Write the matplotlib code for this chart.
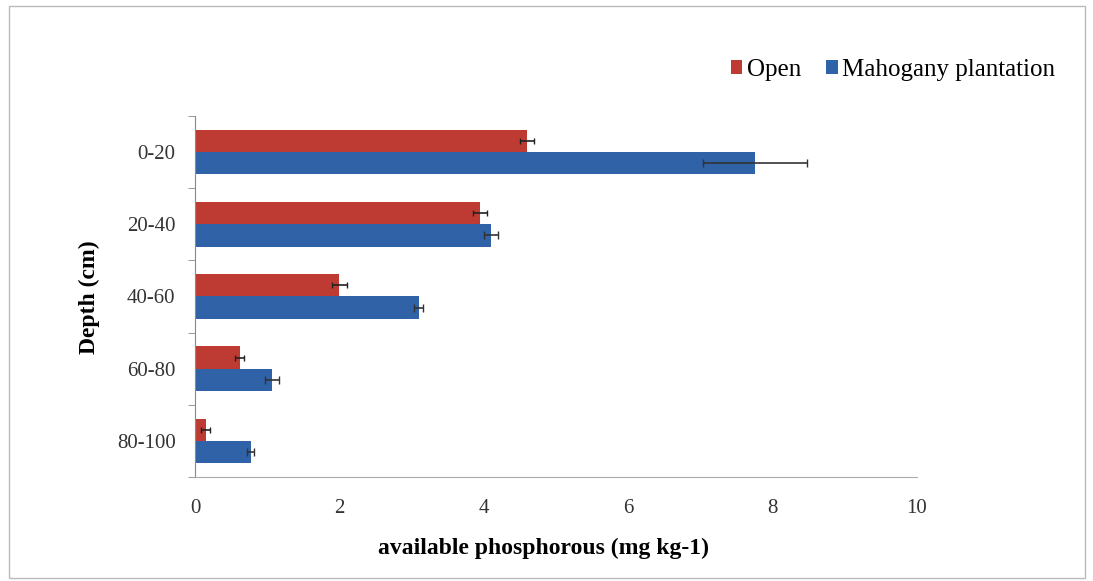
import matplotlib.pyplot as plt
import numpy as np

plt.rcParams['font.family'] = ['Liberation Serif', 'DejaVu Serif']

depths = ['0-20', '20-40', '40-60', '60-80', '80-100']
open_vals = [4.6, 3.95, 2.0, 0.62, 0.15]
open_err = [0.1, 0.1, 0.1, 0.06, 0.06]
mahog_vals = [7.75, 4.1, 3.1, 1.07, 0.77]
mahog_err = [0.72, 0.1, 0.06, 0.1, 0.05]

RED = '#BD3B33'
BLUE = '#2F62A6'

fig = plt.figure(figsize=(10.93, 5.81), dpi=100)
ax = fig.add_axes([195/1093, 1-477/581, (917-195)/1093, (477-116)/581])

y = np.arange(len(depths))
h = 0.31
ax.barh(y - h/2, open_vals, height=h, color=RED, label='Open',
        xerr=open_err, error_kw=dict(ecolor='#222222', capsize=2, lw=1.2))
ax.barh(y + h/2, mahog_vals, height=h, color=BLUE, label='Mahogany plantation',
        xerr=mahog_err, error_kw=dict(ecolor='#333333', capsize=3, lw=1.2))

ax.set_ylim(len(depths) - 0.5, -0.5)
ax.set_xlim(0, 10)
ax.set_xticks([0, 2, 4, 6, 8, 10])
ax.set_yticks(y)
ax.set_yticklabels(depths)
ax.set_yticks(np.arange(-0.5, len(depths), 1), minor=True)
ax.tick_params(axis='y', which='major', length=0, labelsize=15, pad=14, colors='#333333')
ax.tick_params(axis='y', which='minor', length=5, color='#888888', direction='out')
ax.tick_params(axis='x', length=0, labelsize=15, pad=16, colors='#333333')

for s in ['top', 'right']:
    ax.spines[s].set_visible(False)
ax.spines['left'].set_color('#888888')
ax.spines['bottom'].set_color('#aaaaaa')

ax.set_xlabel('available phosphorous (mg kg-1)', fontsize=17, fontweight='bold')
ax.xaxis.set_label_coords((543-195)/(917-195), -(538-477)/(477-116))
ax.set_ylabel('Depth (cm)', fontsize=17, fontweight='bold')
ax.yaxis.set_label_coords(-(195-100)/(917-195), (477-297)/(477-116))

ax.legend(loc='center right', bbox_to_anchor=(1068/1093, 1-70/581), bbox_transform=fig.transFigure,
          ncol=2, frameon=False, fontsize=18, handlelength=0.45, handleheight=0.45,
          handletextpad=0.2, columnspacing=1.0, borderpad=0)

fig.patches.append(plt.Rectangle((0.008, 0.005), 0.985, 0.985, transform=fig.transFigure,
                                 fill=False, edgecolor='#bbbbbb', lw=1))

fig.savefig('out.png', dpi=100)
